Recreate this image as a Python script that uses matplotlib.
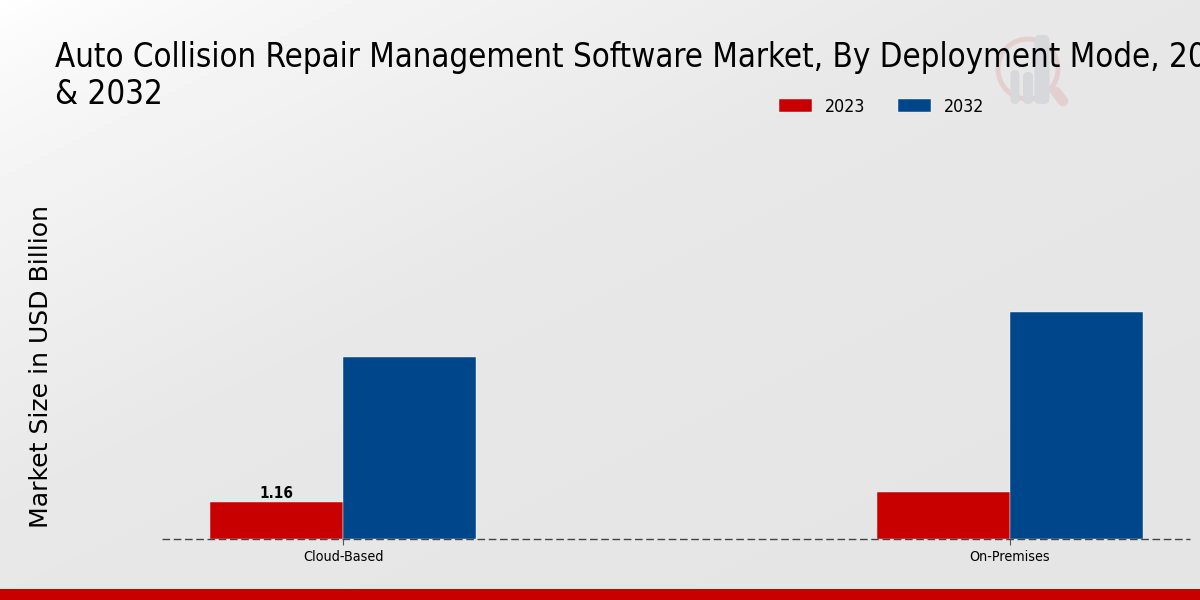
import matplotlib
matplotlib.use('Agg')
import matplotlib.pyplot as plt
from matplotlib.patches import Circle, FancyBboxPatch, Rectangle
import numpy as np

categories = ['Cloud-Based', 'On-Premises']
years = ['2023', '2032']
values_2023 = [1.16, 1.47]
values_2032 = [5.7, 7.13]
shown_labels = ['1.16', '']

RED = '#c80000'
BLUE = '#00468a'
W, H = 1200, 600

fig = plt.figure(figsize=(12, 6), dpi=100)

# background gradient + logo, in pixel coords
bg = fig.add_axes([0, 0, 1, 1], zorder=0)
bg.set_xlim(0, W)
bg.set_ylim(H, 0)
bg.axis('off')
xx, yy = np.meshgrid(np.linspace(0, W, 300), np.linspace(0, H, 150))
d = (0.5 * xx + yy) / 520
shade = 1 - np.clip(d, 0, 1) ** 0.7 * 0.092 - np.clip(d - 1, 0, 1) * 0.012
bg.imshow(shade, extent=[0, W, H, 0], cmap='gray', vmin=0, vmax=1, aspect='auto', zorder=0)

bg.add_patch(Circle((1028, 69), 30, fill=False, ec='#e4cfcf', lw=3.5, zorder=1))
bg.plot([1056, 1063], [92, 101], color='#e4cfcf', lw=7.5, solid_capstyle='round', zorder=1)
for x0, w0, y0, y1 in [(1015, 5, 72, 102), (1028, 6, 74, 102), (1042, 11, 37, 102)]:
    bg.add_patch(FancyBboxPatch((x0 - w0 / 2, y0), w0, y1 - y0,
                                boxstyle='round,pad=2,rounding_size=5',
                                fc='#d6d8db', ec='none', zorder=2))
bg.add_patch(Rectangle((0, 589), W, 11, fc=RED, ec='none', zorder=3))

# main chart
ax = fig.add_axes([162 / W, 1 - 539 / H, (1190 - 162) / W, (539 - 130) / H], zorder=1)
ax.patch.set_alpha(0)
x = np.arange(len(categories))
width = 0.2
b1 = ax.bar(x - width / 2, values_2023, width, color=RED, edgecolor='white', linewidth=0.3, label=years[0])
b2 = ax.bar(x + width / 2, values_2032, width, color=BLUE, edgecolor='white', linewidth=0.3, label=years[1])
ax.set_xlim(-0.2714, 1.27)
ax.set_ylim(0, 409 / 31.9)

for rect, txt in zip(b1, shown_labels):
    ax.annotate(txt, (rect.get_x() + rect.get_width() / 2, rect.get_height()),
                xytext=(0, 1), textcoords='offset points', ha='center', va='bottom',
                fontsize=11, fontweight='bold', fontstretch='condensed', color='black')

for s in ['top', 'right', 'left']:
    ax.spines[s].set_visible(False)
ax.spines['bottom'].set_linestyle((0, (5.5, 2.6)))
ax.spines['bottom'].set_capstyle('butt')
ax.spines['bottom'].set_linewidth(1)
ax.spines['bottom'].set_color('#444444')
ax.set_yticks([])
ax.set_xticks(x)
ax.set_xticklabels(categories, fontsize=10.3, fontstretch='condensed')
ax.tick_params(axis='x', length=4, color='#555555', pad=4)

fig.text(55 / W, 1 - 58 / H,
         'Auto Collision Repair Management Software Market, By Deployment Mode, 2023',
         fontsize=23.7, fontstretch='condensed', va='center', ha='left', color='black')
fig.text(55 / W, 1 - 94 / H, '& 2032',
         fontsize=23.7, fontstretch='condensed', va='center', ha='left', color='black')
fig.text(41 / W, 1 - 367 / H, 'Market Size in USD Billion', rotation=90, fontsize=18.1,
         va='center', ha='center', color='black')

ax.legend(loc='upper left', bbox_to_anchor=(779 / W, 1 - 98 / H), bbox_transform=fig.transFigure,
          ncol=2, frameon=False, prop={'size': 12.8, 'stretch': 'condensed'},
          borderpad=0, borderaxespad=0, labelspacing=0,
          handlelength=1.85, handleheight=0.75, columnspacing=1.85, handletextpad=0.72)

fig.savefig('out.png', dpi=100)
